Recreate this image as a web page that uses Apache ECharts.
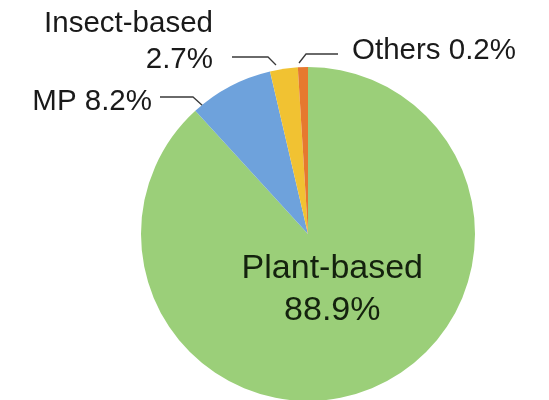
<!DOCTYPE html>
<html>
<head>
<meta charset="utf-8">
<title>Protein sources</title>
<script src="https://cdn.jsdelivr.net/npm/echarts@6/dist/echarts.min.js"></script>
<style>
  html, body { margin: 0; padding: 0; background: #ffffff; }
  #chart { width: 549px; height: 400px; }
</style>
</head>
<body>
<div id="chart"></div>
<script>
// Share of each protein source (%)
const categories = ['Plant-based', 'MP', 'Insect-based', 'Others'];
const shares = [88.9, 8.2, 2.7, 0.2];
const sliceColors = ['#9bcf79', '#6ea2dc', '#f1c232', '#e6792f'];

// How each label is written: {n} = name, {v} = share
const labelFormats = {
  'Plant-based': '{n}\n{v}%',
  'MP': '{n} {v}%',
  'Insect-based': '{n}\n{v}%',
  'Others': '{n} {v}%'
};

// Placement of the callout labels and their leader lines (pixels)
const calloutPlacement = {
  'Insect-based': { x: 213, y: 42, align: 'right', line: [[276, 65], [268, 57], [232, 57]] },
  'MP':           { x: 152, y: 102, align: 'right', line: [[203, 106], [193, 97], [160, 97]] },
  'Others':       { x: 352, y: 51, align: 'left',  line: [[299, 63], [306, 54], [338, 54]] }
};
const insideShift = { dx: -7, dy: -25 };

const FONT = "'Liberation Sans', Arial, Helvetica, sans-serif";

const chart = echarts.init(document.getElementById('chart'), null, { renderer: 'canvas' });

const data = categories.map((name, i) => {
  const inside = i === 0;
  return {
    name: name,
    value: shares[i],
    itemStyle: { color: sliceColors[i] },
    label: inside
      ? { position: 'inside', fontSize: 34, lineHeight: 42, color: '#14220e', align: 'center' }
      : { position: 'outside', fontSize: 29.5, lineHeight: 36, color: '#1a1a1a' },
    labelLine: { show: !inside }
  };
});

chart.setOption({
  backgroundColor: '#ffffff',
  animation: false,
  series: [{
    type: 'pie',
    center: [308, 234],
    radius: 167,
    startAngle: 90,
    clockwise: true,
    minAngle: 3.5,
    avoidLabelOverlap: false,
    itemStyle: { borderWidth: 0 },
    label: {
      show: true,
      fontFamily: FONT,
      formatter: function (p) {
        return labelFormats[p.name]
          .replace('{n}', p.name)
          .replace('{v}', Number(p.value).toFixed(1));
      }
    },
    labelLine: {
      show: true,
      lineStyle: { color: '#3a3a3a', width: 1.3 }
    },
    labelLayout: function (params) {
      const name = categories[params.dataIndex];
      const cfg = calloutPlacement[name];
      if (!cfg) {
        return { dx: insideShift.dx, dy: insideShift.dy };
      }
      return {
        x: cfg.x,
        y: cfg.y,
        align: cfg.align,
        verticalAlign: 'middle',
        labelLinePoints: cfg.line
      };
    },
    data: data
  }]
});
</script>
</body>
</html>
